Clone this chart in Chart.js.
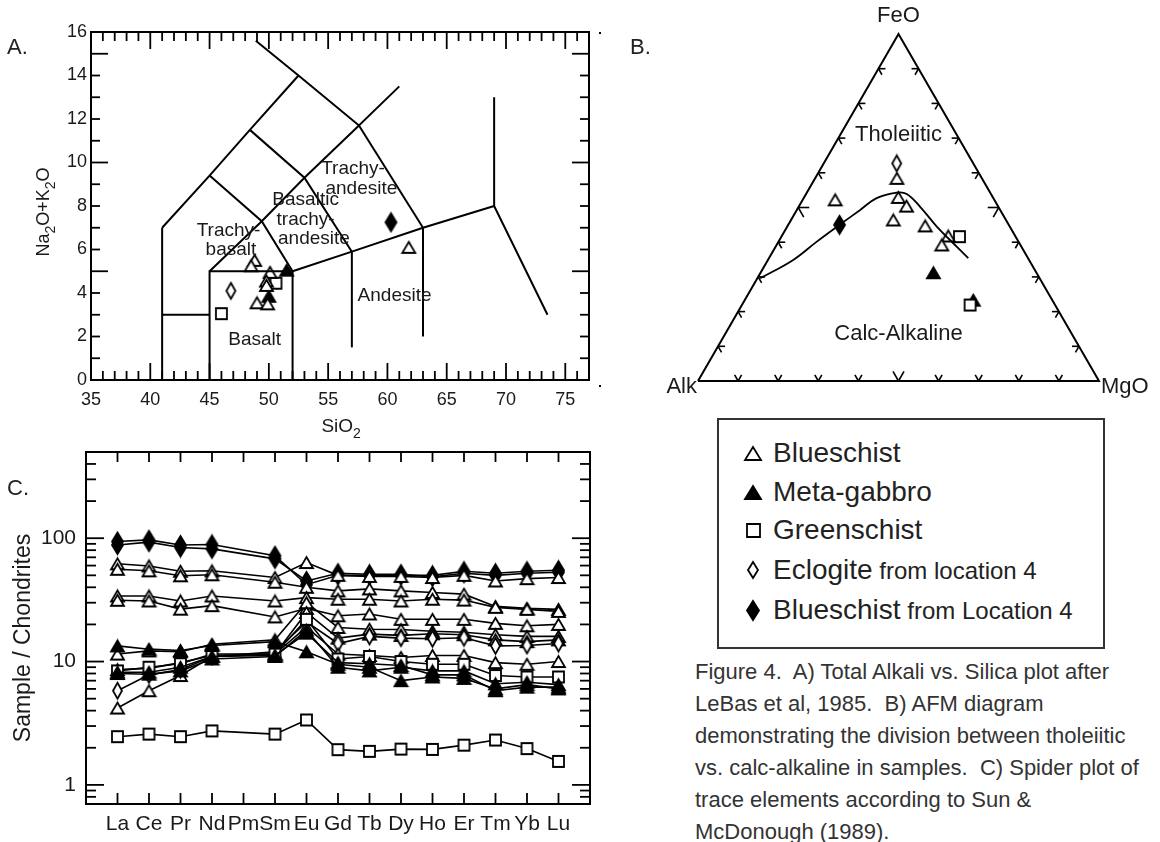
<!DOCTYPE html>
<html>
<head>
<meta charset="utf-8">
<script src="https://cdn.jsdelivr.net/npm/chart.js@4.4.1/dist/chart.umd.min.js"></script>
<style>
  body { margin: 0; width: 1160px; height: 842px; background: #fff; position: relative; overflow: hidden;
         font-family: "Liberation Sans", Arial, Helvetica, sans-serif; color: #222; }
  canvas { position: absolute; }
  .plab { position: absolute; font-size: 22px; line-height: 22px; }
  .dot { position: absolute; width: 2px; height: 2px; background: #000; }
  #legend { position: absolute; left: 717px; top: 418px; width: 388px; height: 231px;
            border: 2px solid #333; box-sizing: border-box; }
  .lrow { position: absolute; left: 0; height: 36px; line-height: 36px; white-space: nowrap; }
  .lrow .big { position: absolute; left: 54px; font-size: 28px; }
  .lrow .small { font-size: 24px; }
  .lrow canvas { position: absolute; }
  #caption { position: absolute; left: 695px; top: 656px; font-size: 22px; line-height: 32px; color: #333; white-space: nowrap; }
</style>
</head>
<body>
<canvas id="tas" width="620" height="450" style="left:0;top:0"></canvas>
<canvas id="afm" width="560" height="410" style="left:600px;top:0"></canvas>
<canvas id="ree" width="620" height="402" style="left:0;top:440px"></canvas>

<div class="plab" style="left:7px;top:36px">A.</div>
<div class="plab" style="left:630px;top:36px">B.</div>
<div class="plab" style="left:7px;top:477px">C.</div>
<div class="dot" style="left:599px;top:32px"></div>
<div class="dot" style="left:599px;top:385px"></div>

<div id="legend"></div>

<div id="caption">Figure 4.&nbsp; A) Total Alkali vs. Silica plot after<br>LeBas et al, 1985.&nbsp; B) AFM diagram<br>demonstrating the division between tholeiitic<br>vs. calc-alkaline in samples.&nbsp; C) Spider plot of<br>trace elements according to Sun &amp;<br>McDonough (1989).</div>

<script>
// ---------- A. TAS ----------
const tasXTicks = [35, 40, 45, 50, 55, 60, 65, 70, 75];
const tasYTicks = [0, 2, 4, 6, 8, 10, 12, 14, 16];

// field boundaries (SiO2, Na2O+K2O)
const tasLines = [
  [[41, 0], [41, 7]],
  [[41, 3], [45, 3]],
  [[41, 7], [45, 9.4], [48.4, 11.5], [52.5, 14]],
  [[48.9, 15.6], [52.5, 14], [57.6, 11.7], [61, 13.5]],
  [[45, 0], [45, 5], [52, 5], [52, 0]],
  [[45, 5], [49.4, 7.3], [53, 9.3], [57.6, 11.7]],
  [[45, 9.4], [49.4, 7.3], [52, 5]],
  [[48.4, 11.5], [53, 9.3], [57, 5.9]],
  [[52, 5], [57, 5.9], [63, 7], [69, 8]],
  [[57, 1.5], [57, 5.9]],
  [[63, 2], [63, 7]],
  [[57.6, 11.7], [63, 7]],
  [[69, 13], [69, 8], [73.5, 3]]
];

const tasFieldNames = [
  ['Trachy-', 46.6, 6.85], ['basalt', 46.8, 6.0],
  ['Basaltic', 53.1, 8.3], ['trachy-', 53.1, 7.35], ['andesite', 53.8, 6.5],
  ['Trachy-', 57.1, 9.7], ['andesite', 57.8, 8.8],
  ['Basalt', 48.8, 1.85], ['Andesite', 60.6, 3.85]
];

const tasBlueschistSi  = [48.8, 48.5, 50.1, 49.8, 49.8, 49.0, 49.9, 61.8];
const tasBlueschistAlk = [5.5, 5.25, 4.95, 4.55, 4.35, 3.55, 3.5, 6.1];
const tasGabbroSi  = [50.0, 51.5];
const tasGabbroAlk = [3.85, 5.05];
const tasGreenSi  = [46.0, 50.6];
const tasGreenAlk = [3.05, 4.45];
const tasEclogiteSi  = [46.8];
const tasEclogiteAlk = [4.1];
const tasLoc4Si  = [60.3];
const tasLoc4Alk = [7.25];

// ---------- B. AFM (FeO, MgO, Alk in %) ----------
const afmBlueschist = [[58.4, 20.4, 21.2], [52.2, 8.1, 39.7], [52.9, 23.5, 23.6], [50.4, 26.8, 22.8],
                       [46.4, 25.5, 28.1], [44.7, 34.3, 21.0], [41.8, 41.5, 16.7], [39.2, 41.2, 19.6]];
const afmGabbro     = [[31.2, 43.1, 25.7], [23.3, 57.0, 19.7]];
const afmGreen      = [[41.6, 44.4, 14.0], [21.9, 56.9, 21.2]];
const afmEclogite   = [[62.7, 18.2, 19.1]];
const afmLoc4       = [[45.0, 12.8, 42.2]];
const afmDivide     = [[29.6, 0.7, 69.7], [34.9, 6.3, 58.8], [40.1, 9.5, 50.4], [45.0, 12.8, 42.2],
                       [49.3, 15.8, 34.9], [52.7, 18.2, 29.1], [54.3, 22.4, 23.3], [53.9, 25.1, 21.0],
                       [50.2, 30.3, 19.5], [44.5, 37.3, 18.2], [39.7, 43.8, 16.5], [35.4, 49.7, 14.9]];

// ---------- C. REE spider ----------
const reeLabels = ['La', 'Ce', 'Pr', 'Nd', 'Pm', 'Sm', 'Eu', 'Gd', 'Tb', 'Dy', 'Ho', 'Er', 'Tm', 'Yb', 'Lu'];
const reeYTicks = [1, 10, 100];

const reeLoc4A = [88, 93, 84, 82, null, 68, 45, 52, 51, 51, 48.6, 52, 50, 52, 53];
const reeLoc4B = [94, 97, 88, 89, null, 72, 42, 50, 50, 50, 50, 54, 52, 54, 55];
const reeBsA = [62, 59.6, 54, 54.4, null, 48, 63.5, 50, 49, 49, 48, 50, 45, 47, 48];
const reeBsB = [56, 54.4, 49.6, 50.5, null, 44, 40, 37.4, 38.8, 37.4, 36.3, 35.2, 28, 27, 26.5];
const reeBsC = [34, 34, 31, 34, null, 31, 33, 32, 32, 31, 32, 31.5, 27.5, 26.5, 25.5];
const reeBsD = [31.4, 31, 26.6, 28.4, null, 23, 27, 23.5, 24.3, 22, 22, 22, 20.4, 19.5, 20];
const reeBsE = [11.5, 12.2, 12, 13.8, null, 15, 30, 18.9, 18.3, 18.2, 17.6, 17.3, 16.5, 16, 16];
const reeBsF = [4.2, 5.8, 7.7, 11, null, 11.5, 25, 15.5, 16.7, 16.3, 16.8, 16.5, 15, 14.5, 15];
const reeBsG = [8.6, 8.8, 9.8, 11.2, null, 11.5, 19, 11.5, 11.2, 10.8, 11.2, 11.2, 9.8, 9.5, 10];
const reeEclogite = [5.8, 7.8, 8.6, 11, null, 12, 21, 14, 16, 15.5, 15.3, 15.6, 13.4, 13.5, 14];
const reeGabbroA = [13.4, 12.6, 12.3, 13.5, null, 14.5, 12, 9.5, 9, 7, 7.5, 7.3, 6, 6.5, 6];
const reeGabbroB = [8, 7.9, 8.4, 10.5, null, 11, 18, 9, 8.4, 9, 8.4, 8.4, 6.6, 6.8, 6.5];
const reeGabbroC = [8.2, 8.2, 9, 11, null, 11.2, 17, 9.8, 9.6, 9.3, 7.8, 7.8, 5.8, 6.2, 6.2];
const reeGreenA = [8.4, 9, 9.6, 11.5, null, 11.5, 22, 10.5, 11, 10, 9.5, 9.5, 7.7, 7.5, 7.5];
const reeGreenB = [2.46, 2.58, 2.46, 2.74, null, 2.58, 3.36, 1.93, 1.87, 1.95, 1.94, 2.1, 2.31, 1.97, 1.55];

const SANS = '"Liberation Sans", Arial, Helvetica, sans-serif';
Chart.defaults.font.family = SANS;

// marker glyphs
function makeMarker(shape, filled, w, h) {
  const c = document.createElement('canvas');
  c.width = w + 4; c.height = h + 4;
  const g = c.getContext('2d');
  g.lineWidth = 1.8;
  g.strokeStyle = '#000';
  g.fillStyle = filled ? '#000' : '#fff';
  const cx = c.width / 2, cy = c.height / 2;
  g.beginPath();
  if (shape === 'tri') {
    g.moveTo(cx, cy - h / 2); g.lineTo(cx + w / 2, cy + h / 2); g.lineTo(cx - w / 2, cy + h / 2);
  } else if (shape === 'sq') {
    g.rect(cx - w / 2, cy - h / 2, w, h);
  } else {
    g.moveTo(cx, cy - h / 2); g.lineTo(cx + w / 2, cy); g.lineTo(cx, cy + h / 2); g.lineTo(cx - w / 2, cy);
  }
  g.closePath();
  g.fill();
  g.stroke();
  return c;
}

const mk = {
  tri: makeMarker('tri', false, 13, 11),
  ftri: makeMarker('tri', true, 13, 11),
  sq: makeMarker('sq', false, 11, 11),
  dia: makeMarker('dia', false, 9, 16),
  fdia: makeMarker('dia', true, 11, 18)
};

function seg(ctx, x1, y1, x2, y2) {
  ctx.beginPath(); ctx.moveTo(x1, y1); ctx.lineTo(x2, y2); ctx.stroke();
}

// text with subscripts, centred on (x, y)
function subText(ctx, parts, x, y, size, rotate) {
  ctx.save();
  ctx.translate(x, y);
  if (rotate) ctx.rotate(-Math.PI / 2);
  const big = size + 'px ' + SANS, small = Math.round(size * 0.75) + 'px ' + SANS;
  let w = 0;
  parts.forEach(([t, s]) => { ctx.font = s ? small : big; w += ctx.measureText(t).width; });
  let cx = -w / 2;
  ctx.textAlign = 'left';
  ctx.textBaseline = 'middle';
  parts.forEach(([t, s]) => {
    ctx.font = s ? small : big;
    ctx.fillText(t, cx, s ? size * 0.38 : 0);
    cx += ctx.measureText(t).width;
  });
  ctx.restore();
}

function pts(xs, ys) {
  return xs.map((v, i) => ({ x: v, y: ys[i] }));
}

function scatterSet(data, style) {
  return { data, pointStyle: style, pointRadius: 6, showLine: false, clip: false };
}

const baseOptions = (padding, xs, ys) => ({
  responsive: false,
  animation: false,
  events: [],
  layout: { padding },
  scales: { x: Object.assign({ display: false }, xs), y: Object.assign({ display: false }, ys) },
  plugins: { legend: { display: false }, tooltip: { enabled: false } }
});

// ---- panel A ----
const tasFrame = {
  id: 'tasFrame',
  afterDraw(chart) {
    const { ctx, chartArea: a, scales: { x, y } } = chart;
    ctx.save();
    ctx.strokeStyle = '#000';
    ctx.lineWidth = 2;
    ctx.strokeRect(a.left, a.top, a.right - a.left, a.bottom - a.top);
    ctx.lineWidth = 1.8;
    for (let v = 35; v <= 77; v++) {
      const px = x.getPixelForValue(v), len = v % 5 ? 9 : 17;
      seg(ctx, px, a.bottom, px, a.bottom - len);
      seg(ctx, px, a.top, px, a.top + len);
    }
    for (let v = 0; v <= 16; v++) {
      const py = y.getPixelForValue(v), len = v % 5 ? 9 : 17;
      seg(ctx, a.left, py, a.left + len, py);
      seg(ctx, a.right, py, a.right - len, py);
    }
    ctx.fillStyle = '#1a1a1a';
    ctx.font = '18px ' + SANS;
    ctx.textAlign = 'center';
    ctx.textBaseline = 'middle';
    tasXTicks.forEach(v => ctx.fillText(v, x.getPixelForValue(v), a.bottom + 20));
    ctx.textAlign = 'right';
    tasYTicks.forEach(v => ctx.fillText(v, a.left - 4, y.getPixelForValue(v)));
    ctx.textAlign = 'center';
    ctx.font = '19px ' + SANS;
    tasFieldNames.forEach(([t, sx, sy]) => ctx.fillText(t, x.getPixelForValue(sx), y.getPixelForValue(sy)));
    subText(ctx, [['SiO', 0], ['2', 1]], x.getPixelForValue(55) + 13, a.bottom + 47, 19, false);
    subText(ctx, [['Na', 0], ['2', 1], ['O+K', 0], ['2', 1], ['O', 0]], 44, (a.top + a.bottom) / 2 + 6, 18, true);
    ctx.restore();
  }
};

const tasSets = tasLines.map(line => ({
  data: line.map(([sx, sy]) => ({ x: sx, y: sy })),
  showLine: true, borderColor: '#000', borderWidth: 2, pointRadius: 0, tension: 0
}));
tasSets.push(
  scatterSet(pts(tasBlueschistSi, tasBlueschistAlk), mk.tri),
  scatterSet(pts(tasGreenSi, tasGreenAlk), mk.sq),
  scatterSet(pts(tasEclogiteSi, tasEclogiteAlk), mk.dia),
  scatterSet(pts(tasGabbroSi, tasGabbroAlk), mk.ftri),
  scatterSet(pts(tasLoc4Si, tasLoc4Alk), mk.fdia)
);

new Chart(document.getElementById('tas'), {
  type: 'scatter',
  data: { datasets: tasSets },
  options: baseOptions({ left: 91, top: 32, right: 31, bottom: 70 },
                       { type: 'linear', min: 35, max: 77 }, { type: 'linear', min: 0, max: 16 }),
  plugins: [tasFrame]
});

// ---- panel B ----
const H3 = Math.sqrt(3) / 2;
function tern([f, m, a]) {
  const s = f + m + a;
  return { x: (m + f / 2) / s, y: (f / s) * H3 };
}

const afmFrame = {
  id: 'afmFrame',
  afterDraw(chart) {
    const { ctx, scales: { x, y } } = chart;
    const P = (cx, cy) => [x.getPixelForValue(cx), y.getPixelForValue(cy)];
    ctx.save();
    ctx.strokeStyle = '#000';
    ctx.lineWidth = 1.6;
    const edges = [
      { from: [0, 0], to: [1, 0], arms: [[0.5, -H3], [-0.5, -H3]] },
      { from: [1, 0], to: [0.5, H3], arms: [[-1, 0], [-0.5, H3]] },
      { from: [0.5, H3], to: [0, 0], arms: [[1, 0], [0.5, H3]] }
    ];
    edges.forEach(e => {
      for (let i = 1; i < 10; i++) {
        const t = i / 10;
        const [px, py] = P(e.from[0] + (e.to[0] - e.from[0]) * t, e.from[1] + (e.to[1] - e.from[1]) * t);
        const len = i === 5 ? 11 : 7;
        e.arms.forEach(([dx, dy]) => seg(ctx, px, py, px + dx * len, py + dy * len));
      }
    });
    ctx.fillStyle = '#1a1a1a';
    ctx.font = '22px ' + SANS;
    ctx.textBaseline = 'middle';
    const [ax, ay] = P(0, 0), [mx, my] = P(1, 0), [fx, fy] = P(0.5, H3);
    ctx.textAlign = 'center';
    ctx.fillText('FeO', fx, fy - 18);
    ctx.fillText('Tholeiitic', fx, y.getPixelForValue(0.614));
    ctx.fillText('Calc-Alkaline', fx, y.getPixelForValue(0.117));
    ctx.textAlign = 'right';
    ctx.fillText('Alk', ax - 1, ay + 6);
    ctx.textAlign = 'left';
    ctx.fillText('MgO', mx + 2, my + 6);
    ctx.restore();
  }
};

new Chart(document.getElementById('afm'), {
  type: 'scatter',
  data: {
    datasets: [
      { data: [tern([0, 0, 100]), tern([0, 100, 0]), tern([100, 0, 0]), tern([0, 0, 100])],
        showLine: true, borderColor: '#000', borderWidth: 2, pointRadius: 0, clip: false },
      { data: afmDivide.map(tern), showLine: true, borderColor: '#000', borderWidth: 1.8,
        pointRadius: 0, tension: 0.4, clip: false },
      scatterSet(afmBlueschist.map(tern), mk.tri),
      scatterSet(afmGreen.map(tern), mk.sq),
      scatterSet(afmEclogite.map(tern), mk.dia),
      scatterSet(afmGabbro.map(tern), mk.ftri),
      scatterSet(afmLoc4.map(tern), mk.fdia)
    ]
  },
  options: baseOptions({ left: 98, top: 34, right: 61, bottom: 29 },
                       { type: 'linear', min: 0, max: 1 }, { type: 'linear', min: 0, max: H3 }),
  plugins: [afmFrame]
});

// ---- panel C ----
const reeSeries = [
  [reeGreenB, mk.sq], [reeGabbroA, mk.ftri], [reeGabbroB, mk.ftri], [reeGabbroC, mk.ftri],
  [reeGreenA, mk.sq], [reeBsG, mk.tri], [reeEclogite, mk.dia], [reeBsF, mk.tri], [reeBsE, mk.tri],
  [reeBsD, mk.tri], [reeBsC, mk.tri], [reeBsB, mk.tri], [reeBsA, mk.tri],
  [reeLoc4A, mk.fdia], [reeLoc4B, mk.fdia]
];

const reeFrame = {
  id: 'reeFrame',
  afterDraw(chart) {
    const { ctx, chartArea: a, scales: { x, y } } = chart;
    ctx.save();
    ctx.strokeStyle = '#000';
    ctx.lineWidth = 2;
    ctx.strokeRect(a.left, a.top, a.right - a.left, a.bottom - a.top);
    ctx.lineWidth = 1.8;
    reeLabels.forEach((_, i) => {
      const px = x.getPixelForValue(i);
      seg(ctx, px, a.top, px, a.top + 10);
      seg(ctx, px, a.bottom, px, a.bottom - 11);
    });
    for (let dec = 0.1; dec <= 100; dec *= 10) {
      for (let k = 1; k <= 9; k++) {
        const v = dec * k;
        if (v < 0.7 || v > 500) continue;
        const py = y.getPixelForValue(v), len = k === 1 ? 18 : 10;
        seg(ctx, a.left, py, a.left + len, py);
        seg(ctx, a.right, py, a.right - len, py);
      }
    }
    ctx.fillStyle = '#1a1a1a';
    ctx.textBaseline = 'middle';
    ctx.font = '21px ' + SANS;
    ctx.textAlign = 'right';
    reeYTicks.forEach(v => ctx.fillText(v, a.left - 10, y.getPixelForValue(v)));
    ctx.textAlign = 'center';
    reeLabels.forEach((t, i) => ctx.fillText(t, x.getPixelForValue(i), a.bottom + 20));
    ctx.translate(24, (a.top + a.bottom) / 2 + 10);
    ctx.rotate(-Math.PI / 2);
    ctx.font = '23px ' + SANS;
    ctx.fillText('Sample / Chondrites', 0, 0);
    ctx.restore();
  }
};

new Chart(document.getElementById('ree'), {
  type: 'line',
  data: {
    datasets: reeSeries.map(([vals, style]) => ({
      data: vals.map((v, i) => ({ x: i, y: v })),
      borderColor: '#000', borderWidth: 1.6, pointStyle: style, pointRadius: 6,
      spanGaps: true, tension: 0, fill: false, clip: false
    }))
  },
  options: baseOptions({ left: 86, top: 12, right: 30, bottom: 38 },
                       { type: 'linear', min: -1, max: 15 }, { type: 'logarithmic', min: 0.7, max: 500 }),
  plugins: [reeFrame]
});

// ---- legend ----
const legendItems = [
  [makeMarker('tri', false, 16, 13), 'Blueschist', ''],
  [makeMarker('tri', true, 16, 13), 'Meta-gabbro', ''],
  [makeMarker('sq', false, 13, 13), 'Greenschist', ''],
  [makeMarker('dia', false, 10, 16), 'Eclogite', ' from location 4'],
  [makeMarker('dia', true, 12, 19), 'Blueschist', ' from Location 4']
];
const legendRows = [33, 72, 110, 150, 190];
const legendBox = document.getElementById('legend');
legendItems.forEach(([icon, big, small], i) => {
  const row = document.createElement('div');
  row.className = 'lrow';
  row.style.top = (legendRows[i] - 18) + 'px';
  icon.style.left = (34 - icon.width / 2) + 'px';
  icon.style.top = (18 - icon.height / 2) + 'px';
  row.appendChild(icon);
  const span = document.createElement('span');
  span.className = 'big';
  span.innerHTML = big + (small ? '<span class="small">' + small + '</span>' : '');
  row.appendChild(span);
  legendBox.appendChild(row);
});
</script>
</body>
</html>
